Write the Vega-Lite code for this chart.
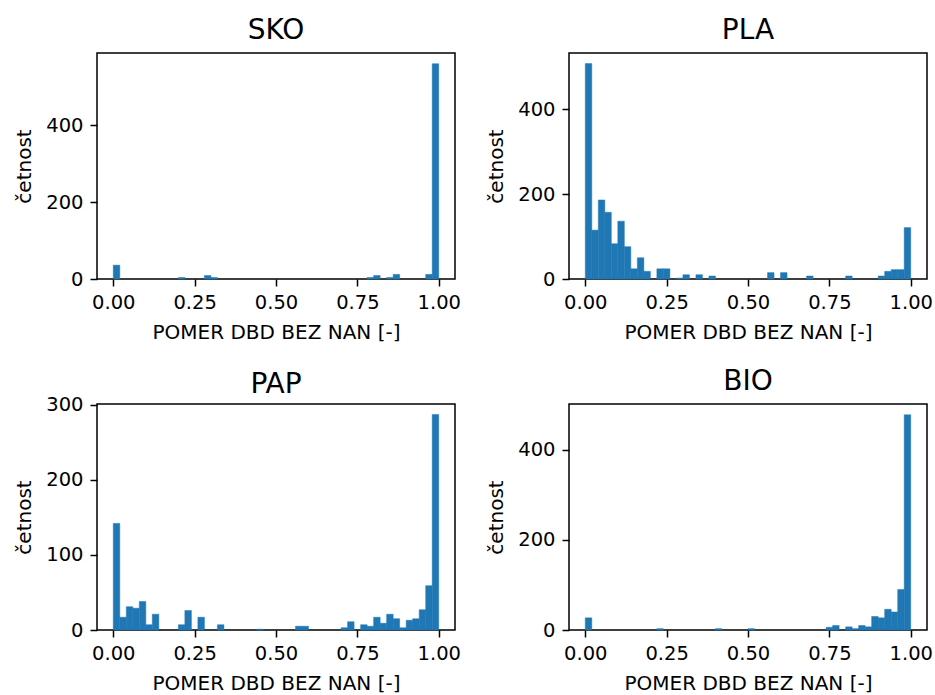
{
  "$schema": "https://vega.github.io/schema/vega-lite/v6.json",
  "padding": {"left": 14, "top": 16, "right": 5, "bottom": 5},
  "background": "white",
  "config": {
    "font": "DejaVu Sans",
    "view": {"stroke": "black", "strokeWidth": 1.5},
    "axis": {"grid": false, "domain": false, "tickColor": "black", "tickSize": 7, "tickWidth": 1.5, "labelFont": "DejaVu Sans", "labelFontSize": 19.5, "labelColor": "black", "labelPadding": 7, "labelFlush": false, "titleFont": "DejaVu Sans", "titleFontSize": 20, "titleFontWeight": "normal", "titleColor": "black", "titlePadding": 11},
    "title": {"font": "DejaVu Sans", "fontSize": 28, "fontWeight": "normal", "color": "black", "offset": 8, "frame": "group"},
    "bar": {"color": "#1f77b4", "stroke": "#1f77b4", "strokeWidth": 0.5}
  },
  "data": {"values": [
    {"p": "SKO", "b0": 0.00, "b1": 0.02, "n": 36},
    {"p": "SKO", "b0": 0.20, "b1": 0.22, "n": 4},
    {"p": "SKO", "b0": 0.28, "b1": 0.30, "n": 9},
    {"p": "SKO", "b0": 0.30, "b1": 0.32, "n": 4},
    {"p": "SKO", "b0": 0.78, "b1": 0.80, "n": 4},
    {"p": "SKO", "b0": 0.80, "b1": 0.82, "n": 9},
    {"p": "SKO", "b0": 0.84, "b1": 0.86, "n": 4},
    {"p": "SKO", "b0": 0.86, "b1": 0.88, "n": 12},
    {"p": "SKO", "b0": 0.96, "b1": 0.98, "n": 12},
    {"p": "SKO", "b0": 0.98, "b1": 1.00, "n": 560},

    {"p": "PLA", "b0": 0.00, "b1": 0.02, "n": 507},
    {"p": "PLA", "b0": 0.02, "b1": 0.04, "n": 115},
    {"p": "PLA", "b0": 0.04, "b1": 0.06, "n": 186},
    {"p": "PLA", "b0": 0.06, "b1": 0.08, "n": 157},
    {"p": "PLA", "b0": 0.08, "b1": 0.10, "n": 83},
    {"p": "PLA", "b0": 0.10, "b1": 0.12, "n": 136},
    {"p": "PLA", "b0": 0.12, "b1": 0.14, "n": 76},
    {"p": "PLA", "b0": 0.14, "b1": 0.16, "n": 24},
    {"p": "PLA", "b0": 0.16, "b1": 0.18, "n": 50},
    {"p": "PLA", "b0": 0.18, "b1": 0.20, "n": 18},
    {"p": "PLA", "b0": 0.22, "b1": 0.24, "n": 24},
    {"p": "PLA", "b0": 0.24, "b1": 0.26, "n": 24},
    {"p": "PLA", "b0": 0.28, "b1": 0.30, "n": 2},
    {"p": "PLA", "b0": 0.30, "b1": 0.32, "n": 10},
    {"p": "PLA", "b0": 0.34, "b1": 0.36, "n": 10},
    {"p": "PLA", "b0": 0.38, "b1": 0.40, "n": 7},
    {"p": "PLA", "b0": 0.56, "b1": 0.58, "n": 15},
    {"p": "PLA", "b0": 0.60, "b1": 0.62, "n": 15},
    {"p": "PLA", "b0": 0.68, "b1": 0.70, "n": 7},
    {"p": "PLA", "b0": 0.80, "b1": 0.82, "n": 7},
    {"p": "PLA", "b0": 0.90, "b1": 0.92, "n": 7},
    {"p": "PLA", "b0": 0.92, "b1": 0.94, "n": 18},
    {"p": "PLA", "b0": 0.94, "b1": 0.96, "n": 22},
    {"p": "PLA", "b0": 0.96, "b1": 0.98, "n": 22},
    {"p": "PLA", "b0": 0.98, "b1": 1.00, "n": 121},

    {"p": "PAP", "b0": 0.00, "b1": 0.02, "n": 142},
    {"p": "PAP", "b0": 0.02, "b1": 0.04, "n": 17},
    {"p": "PAP", "b0": 0.04, "b1": 0.06, "n": 31},
    {"p": "PAP", "b0": 0.06, "b1": 0.08, "n": 29},
    {"p": "PAP", "b0": 0.08, "b1": 0.10, "n": 38},
    {"p": "PAP", "b0": 0.10, "b1": 0.12, "n": 7},
    {"p": "PAP", "b0": 0.12, "b1": 0.14, "n": 21},
    {"p": "PAP", "b0": 0.20, "b1": 0.22, "n": 7},
    {"p": "PAP", "b0": 0.22, "b1": 0.24, "n": 26},
    {"p": "PAP", "b0": 0.26, "b1": 0.28, "n": 17},
    {"p": "PAP", "b0": 0.32, "b1": 0.34, "n": 7},
    {"p": "PAP", "b0": 0.44, "b1": 0.46, "n": 1},
    {"p": "PAP", "b0": 0.56, "b1": 0.58, "n": 5},
    {"p": "PAP", "b0": 0.58, "b1": 0.60, "n": 5},
    {"p": "PAP", "b0": 0.70, "b1": 0.72, "n": 3},
    {"p": "PAP", "b0": 0.72, "b1": 0.74, "n": 11},
    {"p": "PAP", "b0": 0.76, "b1": 0.78, "n": 7},
    {"p": "PAP", "b0": 0.78, "b1": 0.80, "n": 5},
    {"p": "PAP", "b0": 0.80, "b1": 0.82, "n": 17},
    {"p": "PAP", "b0": 0.82, "b1": 0.84, "n": 9},
    {"p": "PAP", "b0": 0.84, "b1": 0.86, "n": 21},
    {"p": "PAP", "b0": 0.86, "b1": 0.88, "n": 15},
    {"p": "PAP", "b0": 0.88, "b1": 0.90, "n": 3},
    {"p": "PAP", "b0": 0.90, "b1": 0.92, "n": 13},
    {"p": "PAP", "b0": 0.92, "b1": 0.94, "n": 15},
    {"p": "PAP", "b0": 0.94, "b1": 0.96, "n": 27},
    {"p": "PAP", "b0": 0.96, "b1": 0.98, "n": 59},
    {"p": "PAP", "b0": 0.98, "b1": 1.00, "n": 287},

    {"p": "BIO", "b0": 0.00, "b1": 0.02, "n": 27},
    {"p": "BIO", "b0": 0.22, "b1": 0.24, "n": 3},
    {"p": "BIO", "b0": 0.40, "b1": 0.42, "n": 3},
    {"p": "BIO", "b0": 0.50, "b1": 0.52, "n": 3},
    {"p": "BIO", "b0": 0.74, "b1": 0.76, "n": 6},
    {"p": "BIO", "b0": 0.76, "b1": 0.78, "n": 10},
    {"p": "BIO", "b0": 0.80, "b1": 0.82, "n": 7},
    {"p": "BIO", "b0": 0.82, "b1": 0.84, "n": 3},
    {"p": "BIO", "b0": 0.84, "b1": 0.86, "n": 10},
    {"p": "BIO", "b0": 0.86, "b1": 0.88, "n": 7},
    {"p": "BIO", "b0": 0.88, "b1": 0.90, "n": 30},
    {"p": "BIO", "b0": 0.90, "b1": 0.92, "n": 27},
    {"p": "BIO", "b0": 0.92, "b1": 0.94, "n": 46},
    {"p": "BIO", "b0": 0.94, "b1": 0.96, "n": 40},
    {"p": "BIO", "b0": 0.96, "b1": 0.98, "n": 90},
    {"p": "BIO", "b0": 0.98, "b1": 1.00, "n": 478}
  ]},
  "columns": 2,
  "spacing": {"row": 125, "column": 114},
  "bounds": "flush",
  "concat": [
    {
      "title": "SKO", "width": 358, "height": 226,
      "transform": [{"filter": "datum.p === 'SKO'"}],
      "mark": "bar",
      "encoding": {
        "x": {"field": "b0", "type": "quantitative", "scale": {"domain": [-0.05, 1.05], "nice": false, "zero": false}, "axis": {"values": [0, 0.25, 0.5, 0.75, 1], "format": ".2f", "title": "POMER DBD BEZ NAN [-]"}},
        "x2": {"field": "b1"},
        "y": {"field": "n", "type": "quantitative", "scale": {"domain": [0, 588], "nice": false}, "axis": {"values": [0, 200, 400], "title": "četnost"}},
        "y2": {"datum": 0}
      }
    },
    {
      "title": "PLA", "width": 358, "height": 226,
      "transform": [{"filter": "datum.p === 'PLA'"}],
      "mark": "bar",
      "encoding": {
        "x": {"field": "b0", "type": "quantitative", "scale": {"domain": [-0.05, 1.05], "nice": false, "zero": false}, "axis": {"values": [0, 0.25, 0.5, 0.75, 1], "format": ".2f", "title": "POMER DBD BEZ NAN [-]"}},
        "x2": {"field": "b1"},
        "y": {"field": "n", "type": "quantitative", "scale": {"domain": [0, 532], "nice": false}, "axis": {"values": [0, 200, 400], "title": "četnost"}},
        "y2": {"datum": 0}
      }
    },
    {
      "title": {"text": "PAP", "offset": -4},
      "width": 358, "height": 226,
      "transform": [{"filter": "datum.p === 'PAP'"}],
      "mark": "bar",
      "encoding": {
        "x": {"field": "b0", "type": "quantitative", "scale": {"domain": [-0.05, 1.05], "nice": false, "zero": false}, "axis": {"values": [0, 0.25, 0.5, 0.75, 1], "format": ".2f", "title": "POMER DBD BEZ NAN [-]"}},
        "x2": {"field": "b1"},
        "y": {"field": "n", "type": "quantitative", "scale": {"domain": [0, 301], "nice": false}, "axis": {"values": [0, 100, 200, 300], "title": "četnost"}},
        "y2": {"datum": 0}
      }
    },
    {
      "title": "BIO", "width": 358, "height": 226,
      "transform": [{"filter": "datum.p === 'BIO'"}],
      "mark": "bar",
      "encoding": {
        "x": {"field": "b0", "type": "quantitative", "scale": {"domain": [-0.05, 1.05], "nice": false, "zero": false}, "axis": {"values": [0, 0.25, 0.5, 0.75, 1], "format": ".2f", "title": "POMER DBD BEZ NAN [-]"}},
        "x2": {"field": "b1"},
        "y": {"field": "n", "type": "quantitative", "scale": {"domain": [0, 502], "nice": false}, "axis": {"values": [0, 200, 400], "title": "četnost"}},
        "y2": {"datum": 0}
      }
    }
  ]
}
